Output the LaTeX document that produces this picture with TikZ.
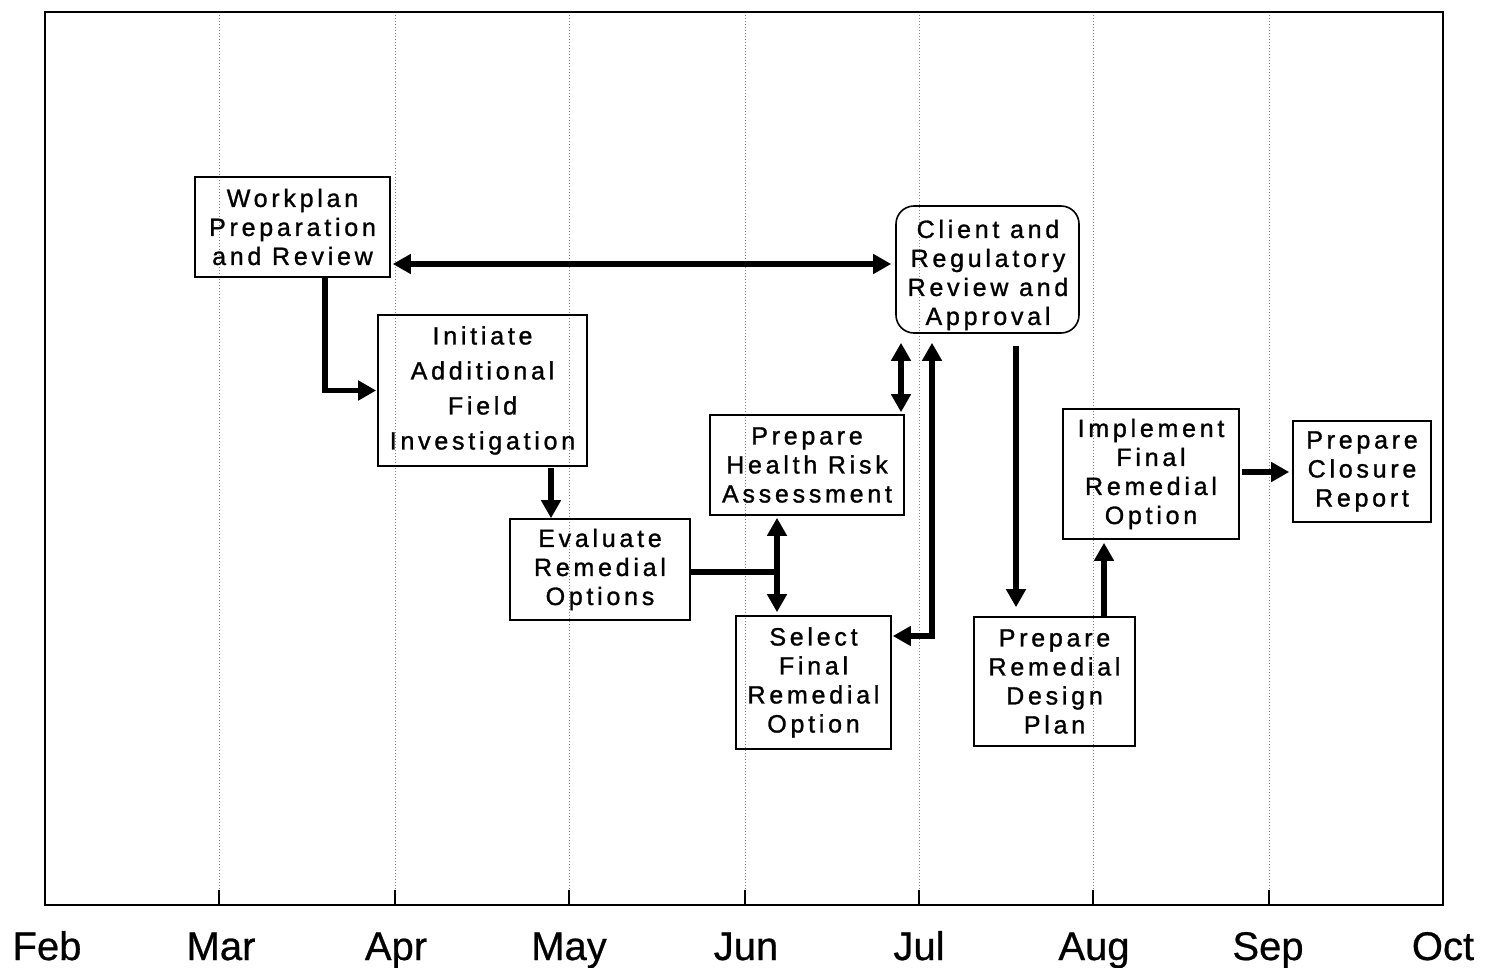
\documentclass[tikz,border=0pt]{standalone}
\usepackage{fontspec}
\setmainfont{Liberation Sans}
\newfontfamily\boxfont[LetterSpace=15,FakeBold=1.2]{Liberation Sans}
\newfontfamily\monthfont[FakeBold=0.6]{Liberation Sans}
\usetikzlibrary{arrows.meta}
\tikzset{
  task/.style={draw, line width=1.6pt, rectangle, align=center, inner sep=0pt,
    font=\boxfont\fontsize{25}{29}\selectfont},
  tasktext/.style={align=center, inner sep=0pt, font=\boxfont\fontsize{25}{29}\selectfont},
  arr/.style={line width=5.5pt, -{Triangle[length=18pt,width=19pt]}},
  darr/.style={line width=5.5pt, {Triangle[length=18pt,width=19pt]}-{Triangle[length=18pt,width=19pt]}},
  grid/.style={gray, dotted, line width=1pt},
  month/.style={font=\monthfont\fontsize{40}{44}\selectfont, anchor=base}
}
\begin{document}
\begin{tikzpicture}[x=1pt,y=-1pt]
\useasboundingbox (0,0) rectangle (1487,968);
% grid
\foreach \x in {219,395,569,745,919,1093,1269}{
  \draw[grid] (\x,12) -- (\x,905);
  \draw[line width=1.2pt] (\x,890) -- (\x,905);
}
\draw[line width=2pt] (45,12) rectangle (1443,905);
% months
\foreach \x/\m in {47/Feb,221/Mar,396/Apr,569/May,746/Jun,919/Jul,1094/Aug,1268/Sep,1443/Oct}{
  \node[month] (m\m) at (\x,960) {\m};
}
% tasks
\node[task, minimum width=195pt, minimum height=100pt] (wp) at (292.5,227) {Workplan\\Preparation\\and Review};
\node[task, minimum width=209pt, minimum height=151pt, font=\boxfont\fontsize{25}{35}\selectfont] (ini) at (482.5,390.5) {Initiate\\Additional\\Field\\Investigation};
\node[task, minimum width=180pt, minimum height=101pt] (ev) at (600,569.5) {Evaluate\\Remedial\\Options};
\node[task, minimum width=194pt, minimum height=100pt] (hr) at (807,465) {Prepare\\Health Risk\\Assessment};
\node[task, minimum width=155pt, minimum height=133pt] (sel) at (813.5,682.5) {Select\\Final\\Remedial\\Option};
\node[task, rounded corners=18pt, minimum width=183pt, minimum height=127pt] (cl) at (987.5,269.5) {};
\node[tasktext] (clt) at (988,275) {Client and\\Regulatory\\Review and\\Approval};
\node[task, minimum width=161pt, minimum height=129pt] (des) at (1054.5,681.5) {Prepare\\Remedial\\Design\\Plan};
\node[task, minimum width=176pt, minimum height=130pt] (imp) at (1151,474) {Implement\\Final\\Remedial\\Option};
\node[task, minimum width=138pt, minimum height=101pt] (clo) at (1362,471.5) {Prepare\\Closure\\Report};
% helper coordinates
\coordinate (h1) at (0,264);
\coordinate (c325) at (325,0);
\coordinate (c551) at (551,0);
\coordinate (h572) at (0,572);
\coordinate (c777) at (777,0);
\coordinate (c901) at (901,0);
\coordinate (c932) at (932,0);
\coordinate (h636) at (0,636);
\coordinate (c1016) at (1016,0);
\coordinate (c1104) at (1104,0);
\coordinate (h472) at (0,472);
% connectors
\draw[darr, shorten <=2pt, shorten >=4pt] (wp.east |- h1) -- (cl.west |- h1);
\draw[arr, shorten >=1pt] (wp.south -| c325) |- (ini.west);
\draw[arr, shorten <=1pt] (ini.south -| c551) -- (ev.north -| c551);
\draw[line width=5.5pt] (ev.east |- h572) -- (c777 |- h572);
\draw[darr, shorten <=2pt, shorten >=3pt] (hr.south -| c777) -- (sel.north -| c777);
\draw[darr, shorten <=2pt, shorten >=9pt] (hr.north -| c901) -- (cl.south -| c901);
\draw[darr, shorten >=9pt, shorten <=1pt] (sel.east |- h636) -| (cl.south -| c932);
\draw[arr, shorten <=12pt, shorten >=9pt] (cl.south -| c1016) -- (des.north -| c1016);
\draw[arr, shorten >=3pt] (des.north -| c1104) -- (imp.south -| c1104);
\draw[arr, shorten <=2pt, shorten >=3pt] (imp.east |- h472) -- (clo.west |- h472);
\end{tikzpicture}
\end{document}
